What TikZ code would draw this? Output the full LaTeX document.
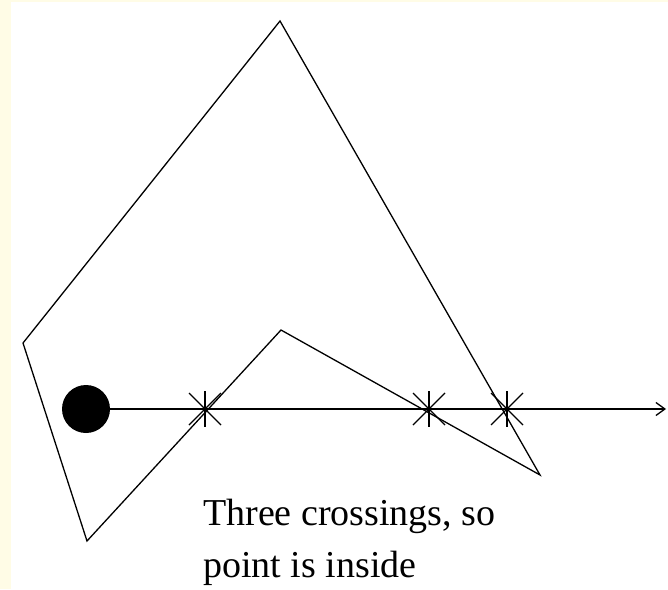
\documentclass[tikz,border=0pt]{standalone}
\usepackage{fontspec}
\setmainfont{Liberation Serif}
\usetikzlibrary{arrows.meta,calc}
\definecolor{bgyellow}{RGB}{255,252,230}
\tikzset{
  edge/.style={line width=1.3pt, line join=miter},
  ray/.style={line width=1.6pt, -{Straight Barb[length=9pt,width=13pt,line width=1.3pt]}},
  starmark/.style={line width=1.3pt},
  label/.style={font=\fontsize{38}{52}\selectfont, anchor=base west, inner sep=0pt}
}
\begin{document}
\begin{tikzpicture}[x=1pt,y=-1pt]
  \fill[bgyellow] (0,0) rectangle (668,589);
  \fill[white] (11,2) rectangle (668,589);
  \useasboundingbox (0,0) rectangle (668,589);
  % polygon vertices
  \coordinate (top) at (280,21);
  \coordinate (left) at (23,343);
  \coordinate (botl) at (87,541);
  \coordinate (peak) at (281,330);
  \coordinate (botr) at (540,475);
  \draw[edge] (top) -- (left) -- (botl) -- (peak) -- (botr) -- cycle;
  % test point and ray
  \node[circle, fill=black, minimum size=48pt, inner sep=0pt] (pt) at (86,409) {};
  \coordinate (rayend) at (666,409);
  \draw[ray] (pt.center) -- (rayend);
  % crossing marks
  \coordinate (c1) at (205,409);
  \coordinate (c2) at (429,409);
  \coordinate (c3) at (507,409);
  \foreach \c in {c1,c2,c3}{
    \draw[starmark] ($(\c)+(0,-18)$) -- ($(\c)+(0,18)$);
    \draw[starmark] ($(\c)+(-16,-16)$) -- ($(\c)+(16,16)$);
    \draw[starmark] ($(\c)+(-16,16)$) -- ($(\c)+(16,-16)$);
  }
  % caption
  \node[label] (t1) at (203,525) {Three crossings, so};
  \node[label] (t2) at (203,577) {point is inside};
\end{tikzpicture}
\end{document}
